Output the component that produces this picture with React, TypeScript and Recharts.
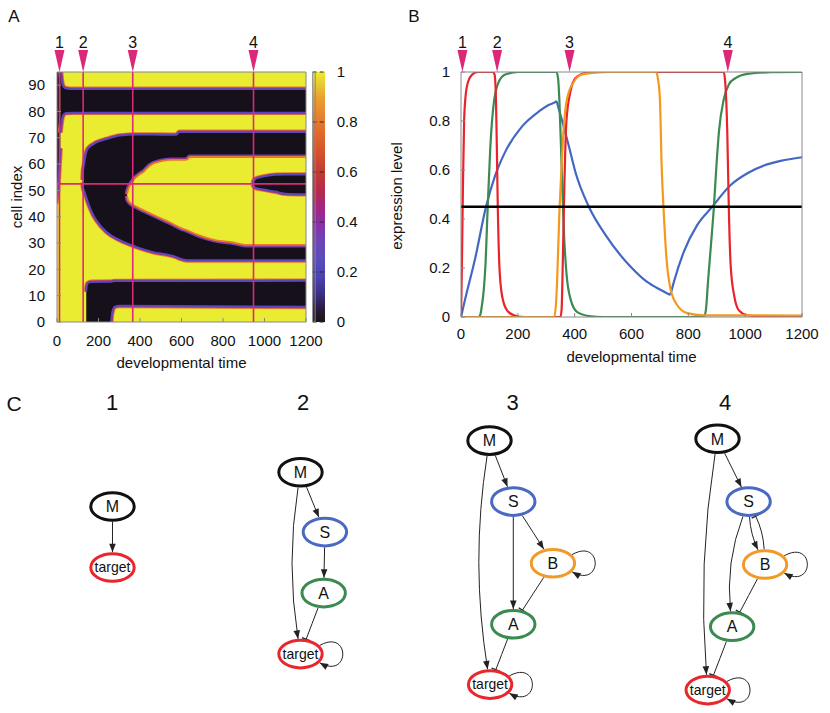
import React from 'react';
import {
  ComposedChart,
  ScatterChart,
  Area,
  Line,
  Scatter,
  XAxis,
  YAxis,
  CartesianGrid,
  ReferenceLine,
  ReferenceDot,
  ReferenceArea,
} from 'recharts';

// ---------- ticks ----------
const timeTicks = [0, 200, 400, 600, 800, 1000, 1200];
const cellTicks = [0, 10, 20, 30, 40, 50, 60, 70, 80, 90];
const levelTicks = [0, 0.2, 0.4, 0.6, 0.8, 1];

// stage markers 1-4 (developmental time), read per panel
const markerTimesA = [12, 126, 365, 947];
const markerTimesB = [5, 127, 382, 939];
const observedCell = 52.5;
const threshold = 0.45;

// ---------- panel A: low-expression (black) regions, [time, cell lo, cell hi] ----------
const leftStrip = [[-5, 45, 97], [0, 48, 97], [8, 55, 97], [16, 66, 97]];
const topBand = [
  [16, 72, 97], [21, 75.5, 93], [26, 77.8, 90.3], [33, 79, 89.2], [45, 79.5, 88.7],
  [80, 79.6, 88.5], [1200, 79.6, 88.5],
];
const wedge = [
  [124, 53, 54], [126, 51, 57.5], [131, 49.8, 60], [137, 48.5, 63], [145, 46.5, 65.3],
  [158, 43.7, 66.6], [175, 40.7, 67.5], [190, 38.7, 68.2], [239, 34.2, 69.5], [303, 31.1, 70.8],
  [384, 28.5, 71.2], [464, 26.6, 71.2], [545, 25.4, 71.1], [575, 24.7, 71.1], [590, 24.2, 72.2],
  [625, 23.5, 72.2], [1200, 23.5, 72.2],
];
// high (yellow) island inside the wedge
const island = [
  [338, 47.9, 48.5], [341, 46.6, 49.8], [348, 45.7, 51.3], [360, 44.8, 53], [374, 44.2, 54.5],
  [400, 43.1, 56.2], [416, 42.5, 57], [448, 41.3, 59.5], [497, 39.5, 61], [545, 37.8, 61.6],
  [601, 35.6, 61.6], [625, 34.9, 61.7], [640, 34.4, 62.7], [682, 33, 62.7], [762, 31.1, 62.7],
  [843, 30.3, 62.7], [908, 29.3, 62.7], [1200, 29.3, 62.7],
];
const lateBand = [
  [944, 52.3, 52.8], [948, 51.6, 53.6], [958, 51, 54.4], [988, 50.5, 55.1], [1052, 49.6, 55.9],
  [1100, 48.8, 56], [1200, 48.6, 56],
];
const bottomBand = [
  [141, -3, 11.5], [144, -3, 13.8], [150, -3, 14.8], [165, -3, 15.2], [258, -3, 15.3],
  [262, 1.5, 15.3], [268, 4.5, 15.4], [278, 5.8, 15.5], [300, 6.2, 15.5], [1200, 5.8, 15.6],
];

// ---------- panel B: expression levels, [time, level] ----------
const targetExpr = [
  [0, 0], [3, 0.2], [7, 0.55], [11, 0.8], [16, 0.9], [25, 0.96], [40, 0.99], [60, 1], [112, 1],
  [118, 0.99], [123, 0.89], [126, 0.7], [129, 0.48], [135, 0.21], [144, 0.09], [162, 0.027],
  [186, 0.007], [220, 0], [350, 0], [354, 0.03], [358, 0.21], [364, 0.55], [371, 0.8], [385, 0.92],
  [403, 0.975], [438, 0.996], [480, 1], [924, 1], [929, 0.97], [937, 0.757], [943, 0.416],
  [949, 0.21], [961, 0.089], [978, 0.027], [1008, 0.007], [1060, 0.002], [1200, 0.002],
];
const aExpr = [
  [0, 0], [62, 0], [68, 0.01], [74, 0.05], [80, 0.11], [86, 0.21], [94, 0.45], [103, 0.69],
  [115, 0.87], [133, 0.96], [156, 0.99], [203, 1], [336, 1], [342, 0.97], [346, 0.89], [354, 0.62],
  [362, 0.35], [371, 0.18], [385, 0.075], [409, 0.02], [450, 0.004], [500, 0], [855, 0],
  [862, 0.03], [869, 0.14], [880, 0.3], [890, 0.45], [899, 0.62], [908, 0.76], [925, 0.89],
  [943, 0.95], [966, 0.975], [1008, 0.992], [1090, 0.999], [1200, 1],
];
const bExpr = [
  [0, 0], [328, 0], [334, 0.05], [338, 0.14], [346, 0.42], [354, 0.62], [362, 0.78], [373, 0.89],
  [397, 0.96], [426, 0.99], [473, 0.997], [520, 1], [686, 1], [692, 0.98], [700, 0.89],
  [706, 0.62], [714, 0.416], [723, 0.24], [737, 0.116], [761, 0.048], [796, 0.016], [855, 0.007],
  [1200, 0.006],
];
const sExpr = [
  [0, 0], [15, 0.075], [50, 0.24], [88, 0.45], [121, 0.58], [156, 0.675], [215, 0.778],
  [274, 0.839], [310, 0.866], [330, 0.876], [336, 0.88], [341, 0.862], [356, 0.8], [379, 0.7],
  [403, 0.59], [450, 0.45], [509, 0.334], [597, 0.205], [655, 0.143], [700, 0.112], [728, 0.095],
  [735, 0.091], [740, 0.105], [749, 0.143], [784, 0.266], [831, 0.375], [884, 0.45], [949, 0.539],
  [1008, 0.587], [1066, 0.618], [1125, 0.637], [1200, 0.652],
];

// ---------- panel C: network at each stage ----------
const net1Nodes = [{ id: 'M', x: 0, y: 1.08 }, { id: 'target', x: 0, y: 2.08 }];
const net1Edges = [{ from: 'M', to: 'target', kind: 'act', bend: 0 }];

const net2Nodes = [
  { id: 'M', x: 0, y: 0.52 }, { id: 'S', x: 0.4, y: 1.5 }, { id: 'A', x: 0.38, y: 2.5 },
  { id: 'target', x: 0, y: 3.5 },
];
const net2Edges = [
  { from: 'M', to: 'S', kind: 'act', bend: 0 },
  { from: 'S', to: 'A', kind: 'act', bend: 0 },
  { from: 'A', to: 'target', kind: 'inh', bend: 0 },
  { from: 'M', to: 'target', kind: 'act', bend: 0.08 },
  { from: 'target', to: 'target', kind: 'act', bend: 0 },
];

const net3Nodes = [
  { id: 'M', x: 0, y: 0 }, { id: 'S', x: 0.39, y: 1 }, { id: 'B', x: 1.04, y: 2.01 },
  { id: 'A', x: 0.39, y: 3.01 }, { id: 'target', x: 0.01, y: 4 },
];
const net3Edges = [
  { from: 'M', to: 'S', kind: 'act', bend: 0 },
  { from: 'M', to: 'target', kind: 'act', bend: 0.08 },
  { from: 'S', to: 'A', kind: 'act', bend: 0 },
  { from: 'S', to: 'B', kind: 'act', bend: 0 },
  { from: 'B', to: 'A', kind: 'inh', bend: 0 },
  { from: 'A', to: 'target', kind: 'inh', bend: 0 },
  { from: 'B', to: 'B', kind: 'act', bend: 0 },
  { from: 'target', to: 'target', kind: 'act', bend: 0 },
];

const net4Nodes = [
  { id: 'M', x: 0, y: -0.03 }, { id: 'S', x: 0.51, y: 1 }, { id: 'B', x: 0.78, y: 2.03 },
  { id: 'A', x: 0.24, y: 3.05 }, { id: 'target', x: -0.16, y: 4.09 },
];
const net4Edges = [
  { from: 'M', to: 'S', kind: 'act', bend: 0 },
  { from: 'M', to: 'target', kind: 'act', bend: 0.06 },
  { from: 'S', to: 'A', kind: 'act', bend: 0.12 },
  { from: 'S', to: 'B', kind: 'act', bend: 0.1 },
  { from: 'B', to: 'S', kind: 'inh', bend: 0.1 },
  { from: 'B', to: 'A', kind: 'inh', bend: 0 },
  { from: 'A', to: 'target', kind: 'inh', bend: 0 },
  { from: 'B', to: 'B', kind: 'act', bend: 0 },
  { from: 'target', to: 'target', kind: 'act', bend: 0 },
];

// ---------- styles ----------
const FONT = '"Liberation Sans", Arial, Helvetica, sans-serif';
const INK = '#111';
const FRAME = '#888';
const PINK = '#dc2878';
const YELLOW = '#e9ec30';
const DARK = '#15101a';
const EDGE_DARK = ['#e8782c', '#a8307e', '#5848c4']; // outer -> inner fringe
const EDGE_LIGHT = ['#5848c4', '#a8307e', '#e8782c'];
const LINE_COLORS = { s: '#4268c4', a: '#3a8a52', target: '#e8232b', b: '#f5991e' };
const NODE_COLORS = { M: '#111111', S: '#4a69c2', A: '#3b8a50', B: '#f29a28', target: '#e8262c' };
const EDGE = '#222';
const TICK = { fontSize: 15, fill: INK };

const toRange = (rows) => rows.map(([t, lo, hi]) => ({ t, lo, hi }));
const toPts = (rows) => rows.map(([t, v]) => ({ t, v }));
const rangeKey = (d) => [d.lo, d.hi];

const markerShape = (label) => (p) => (
  <g>
    <polygon points={`${p.cx - 5},${p.cy - 22} ${p.cx + 5},${p.cy - 22} ${p.cx},${p.cy}`} fill={PINK} />
    <text x={p.cx} y={p.cy - 24} textAnchor="middle" fontSize={16} fill={INK}>{label}</text>
  </g>
);

// one heatmap region: colour fringe drawn as stacked strokes
function region(name, rows, fill, fringe) {
  const data = toRange(rows);
  const common = {
    data,
    dataKey: rangeKey,
    type: 'monotone',
    isAnimationActive: false,
    dot: false,
    activeDot: false,
  };
  return [
    <Area key={name + '1'} {...common} stroke={fringe[0]} strokeWidth={5} fill="none" />,
    <Area key={name + '2'} {...common} stroke={fringe[1]} strokeWidth={3.2} fill="none" />,
    <Area key={name + '3'} {...common} stroke={fringe[2]} strokeWidth={1.8} fill={fill} fillOpacity={1} />,
  ];
}

// four framing axes; ticks point inward, labels only on bottom/left
function frameAxes(xDomain, xTicks, yDomain, yTicks, xMargin, yMargin) {
  return [
    <XAxis key="xb" dataKey="t" type="number" domain={xDomain} ticks={xTicks} interval={0} allowDataOverflow
      height={1} tickSize={-4} tickMargin={xMargin} tick={TICK} stroke={FRAME} />,
    <YAxis key="yl" dataKey="v" type="number" domain={yDomain} ticks={yTicks} interval={0} allowDataOverflow
      width={1} tickSize={-4} tickMargin={yMargin} tick={TICK} stroke={FRAME} />,
    <XAxis key="xt" xAxisId="top" orientation="top" dataKey="t" type="number" domain={xDomain} ticks={xTicks}
      interval={0} allowDataOverflow height={1} tick={false} tickSize={-4} stroke={FRAME} />,
    <YAxis key="yr" yAxisId="right" orientation="right" dataKey="v" type="number" domain={yDomain} ticks={yTicks}
      interval={0} allowDataOverflow width={1} tick={false} tickSize={-4} stroke={FRAME} />,
  ];
}

const Txt = ({ x, y, size, rotate = false, children }) => (
  <div
    style={{
      position: 'absolute',
      left: x,
      top: y,
      transform: `translate(-50%, -50%)${rotate ? ' rotate(-90deg)' : ''}`,
      fontSize: size,
      lineHeight: 1,
      whiteSpace: 'nowrap',
      color: INK,
    }}
  >
    {children}
  </div>
);

function HeatPanel() {
  return (
    <div style={{ position: 'absolute', left: 0, top: 0 }}>
      <ComposedChart width={330} height={370} margin={{ top: 71, right: 23, bottom: 47, left: 56 }}
        data={[{ t: 0, v: 0 }, { t: 1200, v: 95 }]}>
        <CartesianGrid horizontal={false} vertical={false} fill={YELLOW} fillOpacity={1} />
        {frameAxes([0, 1200], timeTicks, [0, 95], cellTicks, 17, 16)}
        {region('strip', leftStrip, DARK, EDGE_DARK)}
        {region('top', topBand, DARK, EDGE_DARK)}
        {region('wedge', wedge, DARK, EDGE_DARK)}
        {region('island', island, YELLOW, EDGE_LIGHT)}
        {region('late', lateBand, DARK, EDGE_DARK)}
        {region('bottom', bottomBand, DARK, EDGE_DARK)}
        {markerTimesA.map((t) => (
          <ReferenceLine key={'v' + t} x={t} stroke={PINK} strokeWidth={1.6} />
        ))}
        <ReferenceLine y={observedCell} stroke={PINK} strokeWidth={1.6} />
        {markerTimesA.map((t, i) => (
          <ReferenceDot key={'m' + t} x={t} y={95} shape={markerShape(i + 1)} />
        ))}
      </ComposedChart>
    </div>
  );
}

function ColorBar() {
  return (
    <div style={{ position: 'absolute', left: 300, top: 0 }}>
      <ComposedChart width={60} height={370} margin={{ top: 72, right: 34, bottom: 48, left: 12.7 }}
        data={levelTicks.map((v) => ({ v }))}>
        <defs>
          <linearGradient id="cbar" x1="0" y1="1" x2="0" y2="0">
            <stop offset="0" stopColor="#1c1418" />
            <stop offset="0.05" stopColor="#2a1a3a" />
            <stop offset="0.1" stopColor="#3a2a7a" />
            <stop offset="0.18" stopColor="#4a44b0" />
            <stop offset="0.25" stopColor="#5a4cbc" />
            <stop offset="0.32" stopColor="#6e44b8" />
            <stop offset="0.4" stopColor="#8c2ea4" />
            <stop offset="0.46" stopColor="#a42680" />
            <stop offset="0.52" stopColor="#b42a50" />
            <stop offset="0.6" stopColor="#c43a32" />
            <stop offset="0.7" stopColor="#d8582c" />
            <stop offset="0.8" stopColor="#e6782c" />
            <stop offset="0.9" stopColor="#eaa232" />
            <stop offset="0.96" stopColor="#e8d034" />
            <stop offset="1" stopColor={YELLOW} />
          </linearGradient>
        </defs>
        <CartesianGrid vertical={false} fill="url(#cbar)" fillOpacity={1} stroke="#2a2a2a" strokeDasharray="4 3" />
        <XAxis type="number" domain={[0, 1]} hide allowDataOverflow />
        <YAxis orientation="right" dataKey="v" type="number" domain={[0, 1]} ticks={levelTicks} interval={0}
          allowDataOverflow width={1} tickLine={false} axisLine={false} tickSize={0} tickMargin={11.7}
          tick={TICK} />
        <ReferenceArea x1={0} x2={1} y1={0} y2={1} fill="none" stroke={FRAME} />
      </ComposedChart>
    </div>
  );
}

function LevelPanel() {
  const series = [
    { key: 's', rows: sExpr },
    { key: 'a', rows: aExpr },
    { key: 'target', rows: targetExpr },
    { key: 'b', rows: bExpr },
  ];
  return (
    <div style={{ position: 'absolute', left: 400, top: 0 }}>
      <ComposedChart width={430} height={370} margin={{ top: 71, right: 27, bottom: 52, left: 60 }}
        data={[{ t: 0, v: 0 }, { t: 1200, v: 1 }]}>
        {frameAxes([0, 1200], timeTicks, [0, 1], levelTicks, 15, 15)}
        {series.map((s) => (
          <Line key={s.key} data={toPts(s.rows)} dataKey="v" type="monotone" stroke={LINE_COLORS[s.key]}
            strokeWidth={2.2} dot={false} activeDot={false} isAnimationActive={false} />
        ))}
        <Line data={[{ t: 0, v: threshold }, { t: 1200, v: threshold }]} dataKey="v" type="linear"
          stroke="#000" strokeWidth={2.6} dot={false} activeDot={false} isAnimationActive={false} />
        {markerTimesB.map((t, i) => (
          <ReferenceDot key={'m' + t} x={t} y={1} shape={markerShape(i + 1)} />
        ))}
      </ComposedChart>
    </div>
  );
}

// ---------- network drawing ----------
const U = 61; // px per layout unit
const NX = [-1.5, 1.8];
const NY = [-0.6, 4.4];
const RX = 21.7;
const RY = 13.8;
const NODE_SW = 3;
const ORX = RX + NODE_SW / 2;
const ORY = RY + NODE_SW / 2;

function onEllipse(cx, cy, tx, ty) {
  const dx = tx - cx;
  const dy = ty - cy;
  const s = 1 / Math.sqrt((dx / ORX) ** 2 + (dy / ORY) ** 2);
  return [cx + dx * s, cy + dy * s];
}

function head(kind, ex, ey, ux, uy) {
  if (kind === 'act') {
    const bx = ex - ux * 8.5;
    const by = ey - uy * 8.5;
    return (
      <polygon
        points={`${ex},${ey} ${bx - uy * 3.3},${by + ux * 3.3} ${bx + uy * 3.3},${by - ux * 3.3}`}
        fill={EDGE}
      />
    );
  }
  return (
    <line x1={ex - uy * 4.5} y1={ey + ux * 4.5} x2={ex + uy * 4.5} y2={ey - ux * 4.5} stroke={EDGE} strokeWidth={1.3} />
  );
}

const edgeShape = (kind, bend) => (p) => {
  const { x1, y1, x2, y2 } = p;
  const dx = x2 - x1;
  const dy = y2 - y1;
  const qx = (x1 + x2) / 2 - dy * bend;
  const qy = (y1 + y2) / 2 + dx * bend;
  const [sx, sy] = onEllipse(x1, y1, qx, qy);
  const [ex, ey] = onEllipse(x2, y2, qx, qy);
  const l = Math.hypot(ex - qx, ey - qy);
  return (
    <g>
      <path d={`M${sx},${sy} Q${qx},${qy} ${ex},${ey}`} fill="none" stroke={EDGE} strokeWidth={1} />
      {head(kind, ex, ey, (ex - qx) / l, (ey - qy) / l)}
    </g>
  );
};

const loopShape = (p) => {
  const { cx, cy } = p;
  const sx = cx + ORX * 0.825;
  const sy = cy - ORY * 0.565;
  const ex = sx;
  const ey = cy + ORY * 0.565;
  const c2x = cx + 50;
  const c2y = cy + 26;
  const l = Math.hypot(ex - c2x, ey - c2y);
  return (
    <g>
      <path d={`M${sx},${sy} C${cx + 50},${cy - 26} ${c2x},${c2y} ${ex},${ey}`} fill="none" stroke={EDGE} strokeWidth={1} />
      {head('act', ex, ey, (ex - c2x) / l, (ey - c2y) / l)}
    </g>
  );
};

const nodeShape = (p) => {
  const { cx, cy, payload } = p;
  const isTarget = payload.id === 'target';
  return (
    <g>
      <ellipse cx={cx} cy={cy} rx={RX} ry={RY} fill="#fff" stroke={NODE_COLORS[payload.id]} strokeWidth={NODE_SW} />
      <text x={cx} y={cy} dy={isTarget ? '0.33em' : '0.36em'} textAnchor="middle" fontSize={isTarget ? 14 : 16} fill={INK}>
        {payload.id}
      </text>
    </g>
  );
};

function Network({ nodes, edges, originX }) {
  const width = (NX[1] - NX[0]) * U;
  const height = (NY[1] - NY[0]) * U;
  const byId = Object.fromEntries(nodes.map((n) => [n.id, n]));
  return (
    <div style={{ position: 'absolute', left: originX + NX[0] * U, top: 441 + NY[0] * U }}>
      <ScatterChart width={width} height={height} margin={{ top: 0, right: 0, bottom: 0, left: 0 }}>
        <XAxis type="number" dataKey="x" domain={NX} hide allowDataOverflow />
        <YAxis type="number" dataKey="y" domain={NY} hide reversed allowDataOverflow />
        {edges.map((e, i) => {
          const a = byId[e.from];
          const b = byId[e.to];
          if (e.from === e.to) {
            return <ReferenceDot key={i} x={a.x} y={a.y} shape={loopShape} />;
          }
          return (
            <ReferenceLine
              key={i}
              segment={[{ x: a.x, y: a.y }, { x: b.x, y: b.y }]}
              shape={edgeShape(e.kind, e.bend)}
            />
          );
        })}
        <Scatter data={nodes} shape={nodeShape} isAnimationActive={false} />
      </ScatterChart>
    </div>
  );
}

export default function App() {
  return (
    <div
      style={{
        position: 'absolute',
        left: 0,
        top: 0,
        width: 830,
        height: 713,
        overflow: 'hidden',
        background: '#fff',
        fontFamily: FONT,
        color: INK,
      }}
    >
      <HeatPanel />
      <ColorBar />
      <LevelPanel />

      <Txt x={14} y={16} size={17}>A</Txt>
      <Txt x={414} y={16} size={17}>B</Txt>
      <Txt x={14} y={403} size={21}>C</Txt>
      <Txt x={15.5} y={197} size={15} rotate>cell index</Txt>
      <Txt x={181.5} y={362} size={15}>developmental time</Txt>
      <Txt x={396} y={196} size={15} rotate>expression level</Txt>
      <Txt x={631.5} y={356} size={15}>developmental time</Txt>

      <Txt x={112} y={403} size={22}>1</Txt>
      <Txt x={303} y={403} size={22}>2</Txt>
      <Txt x={512.7} y={403} size={22}>3</Txt>
      <Txt x={725} y={403} size={22}>4</Txt>

      <Network nodes={net1Nodes} edges={net1Edges} originX={112} />
      <Network nodes={net2Nodes} edges={net2Edges} originX={300} />
      <Network nodes={net3Nodes} edges={net3Edges} originX={489.5} />
      <Network nodes={net4Nodes} edges={net4Edges} originX={717.8} />
    </div>
  );
}
